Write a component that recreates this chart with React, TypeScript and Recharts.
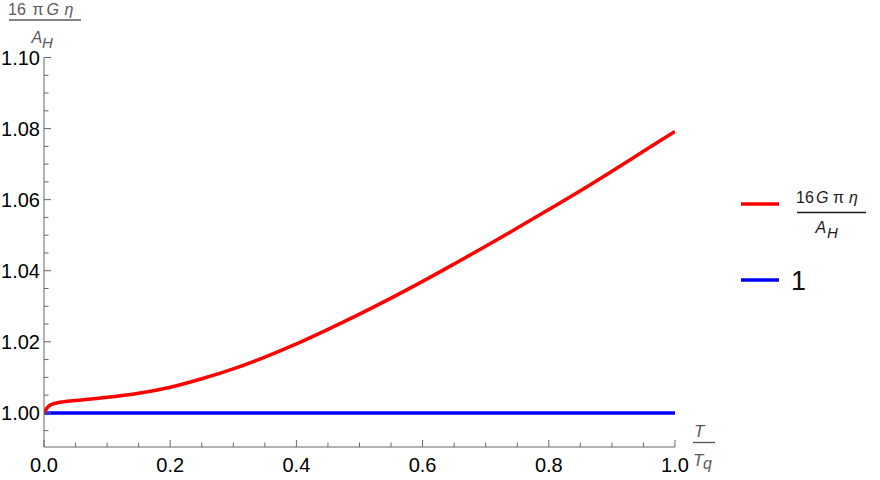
import { LineChart, Line, XAxis, YAxis, Legend, Label } from "recharts"

// T / Tq samples and the viscosity ratio 16 G pi eta / A_H
const temperatureRatio = [
  0, 0.005, 0.01, 0.02, 0.03, 0.05, 0.075, 0.1, 0.15, 0.2, 0.25, 0.3, 0.35,
  0.4, 0.45, 0.5, 0.55, 0.6, 0.65, 0.7, 0.75, 0.8, 0.85, 0.9, 0.95, 1.0,
]
const viscosityRatio = [
  1.0, 1.0014, 1.0022, 1.0028, 1.0031, 1.0035, 1.0039, 1.0044, 1.0055, 1.0072,
  1.0096, 1.0124, 1.0157, 1.0194, 1.0235, 1.0278, 1.0323, 1.037, 1.0419,
  1.0469, 1.052, 1.0572, 1.0625, 1.068, 1.0736, 1.0792,
]
const unitT = [0, 1]
const unitValue = [1, 1]

const xMajorTicks = [0, 0.2, 0.4, 0.6, 0.8, 1.0]
const xMinorTicks = [
  0.05, 0.1, 0.15, 0.25, 0.3, 0.35, 0.45, 0.5, 0.55, 0.65, 0.7, 0.75, 0.85,
  0.9, 0.95,
]
const yMajorTicks = [1.0, 1.02, 1.04, 1.06, 1.08, 1.1]
const yMinorTicks = [
  0.995, 1.005, 1.01, 1.015, 1.025, 1.03, 1.035, 1.045, 1.05, 1.055, 1.065,
  1.07, 1.075, 1.085, 1.09, 1.095,
]

const etaData = temperatureRatio.map((t, i) => ({ t, eta: viscosityRatio[i] }))
const unitData = unitT.map((t, i) => ({ t, unit: unitValue[i] }))

const AXIS_GRAY = "#666666"
const TITLE_GRAY = "#5a5a5a"
const FONT = "'Liberation Sans', Arial, sans-serif"

function XTick(props: any) {
  const { x, y, payload } = props
  const major = xMajorTicks.includes(payload.value)
  return (
    <g>
      <line x1={x} x2={x} y1={y} y2={y - (major ? 7 : 4.5)} stroke={AXIS_GRAY} />
      {major && (
        <text x={x} y={y + 25} textAnchor="middle" fontSize={20} fontFamily={FONT} fill="#000">
          {payload.value.toFixed(1)}
        </text>
      )}
    </g>
  )
}

function YTick(props: any) {
  const { x, y, payload } = props
  const major = yMajorTicks.includes(payload.value)
  return (
    <g>
      <line x1={x} x2={x + (major ? 7 : 4.5)} y1={y} y2={y} stroke={AXIS_GRAY} />
      {major && (
        <text x={x - 4} y={y} dy="0.35em" textAnchor="end" fontSize={20} fontFamily={FONT} fill="#000">
          {payload.value.toFixed(2)}
        </text>
      )}
    </g>
  )
}

function YAxisTitle() {
  return (
    <g fontFamily={FONT} fill={TITLE_GRAY} fontSize={16}>
      <text x={8} y={14.5}>16</text>
      <text x={32.5} y={14.5}>π</text>
      <text x={46.5} y={14.5} fontStyle="italic">G</text>
      <text x={64.5} y={14.5} fontStyle="italic">η</text>
      <line x1={9} x2={81} y1={20} y2={20} stroke={TITLE_GRAY} strokeWidth={1.4} />
      <text x={31.5} y={43} fontStyle="italic">A</text>
      <text x={42} y={47.5} fontStyle="italic" fontSize={15}>H</text>
    </g>
  )
}

function XAxisTitle() {
  return (
    <g fontFamily={FONT} fill={TITLE_GRAY} fontSize={17}>
      <text x={694} y={437} fontStyle="italic">T</text>
      <line x1={693} x2={715} y1={442.5} y2={442.5} stroke={TITLE_GRAY} strokeWidth={1.4} />
      <text x={693} y={466} fontStyle="italic">T</text>
      <text x={703} y={469} fontStyle="italic" fontSize={16}>q</text>
    </g>
  )
}

function LegendBox() {
  // wrapper sits at (730, 175) on the page
  return (
    <svg width={150} height={130} style={{ display: "block" }}>
      <line x1={11} x2={49} y1={29} y2={29} stroke="#ff0000" strokeWidth={3.5} />
      <g fontFamily={FONT} fill="#1a1a1a" fontSize={16}>
        <text x={66} y={28}>16</text>
        <text x={86} y={28} fontStyle="italic">G</text>
        <text x={103} y={28}>π</text>
        <text x={119} y={28} fontStyle="italic">η</text>
        <line x1={67} x2={136} y1={37.5} y2={37.5} stroke="#1a1a1a" strokeWidth={1.3} />
        <text x={85.5} y={58} fontStyle="italic">A</text>
        <text x={97} y={63} fontStyle="italic" fontSize={15}>H</text>
      </g>
      <line x1={11} x2={49} y1={105} y2={105} stroke="#0000ff" strokeWidth={3.5} />
      <text x={61} y={115} fontSize={27} fontFamily={FONT} fill="#111">1</text>
    </svg>
  )
}

export default function App() {
  return (
    <div style={{ width: 880, height: 480, background: "#fff" }}>
      <style>{"body{margin:0}"}</style>
      <LineChart width={880} height={480} margin={{ top: 57.5, right: 205, bottom: 0, left: 0 }}>
        <XAxis
          type="number"
          dataKey="t"
          domain={[0, 1]}
          ticks={[...xMajorTicks, ...xMinorTicks]}
          interval={0}
          height={33}
          tickSize={0}
          tickMargin={0}
          tickLine={false}
          tick={<XTick />}
          axisLine={{ stroke: AXIS_GRAY }}
          allowDataOverflow
        >
          <Label content={<XAxisTitle />} />
        </XAxis>
        <YAxis
          type="number"
          domain={[0.9904, 1.1]}
          ticks={[...yMajorTicks, ...yMinorTicks]}
          interval={0}
          width={44}
          tickSize={0}
          tickMargin={0}
          tickLine={false}
          tick={<YTick />}
          axisLine={{ stroke: AXIS_GRAY }}
          allowDataOverflow
        >
          <Label content={<YAxisTitle />} />
        </YAxis>
        <Legend
          layout="horizontal"
          align="center"
          verticalAlign="middle"
          wrapperStyle={{ left: 730, top: 175, width: 150, height: 130 }}
          content={<LegendBox />}
        />
        <Line
          data={unitData}
          dataKey="unit"
          name="1"
          stroke="#0000ff"
          strokeWidth={3.5}
          dot={false}
          isAnimationActive={false}
        />
        <Line
          data={etaData}
          dataKey="eta"
          name="16 G π η / A_H"
          type="monotone"
          stroke="#ff0000"
          strokeWidth={3.5}
          dot={false}
          isAnimationActive={false}
        />
      </LineChart>
    </div>
  )
}
